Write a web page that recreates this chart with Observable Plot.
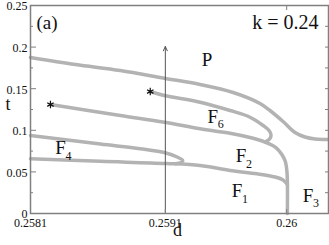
<!DOCTYPE html>
<html><head><meta charset="utf-8">
<script src="https://cdn.jsdelivr.net/npm/d3@7"></script>
<script src="https://cdn.jsdelivr.net/npm/@observablehq/plot@0.6"></script>
<style>
body{margin:0;background:#fff}
svg, svg text{font-family:"Liberation Serif","Times New Roman",serif !important}
</style>
</head><body><div id="chart"></div>
<script>
// Curves [d, t]
const boundaryP = [[0.2581,0.1875],[0.258433,0.1791],[0.258766,0.1719],[0.259092,0.1626],[0.259358,0.1550],[0.259603,0.1454],[0.259802,0.1322],[0.259876,0.1238],[0.259973,0.1106],[0.260062,0.0974],[0.260136,0.0919],[0.260210,0.0895],[0.260306,0.0889]];
const boundaryF6 = [[0.258988,0.1466],[0.259092,0.1418],[0.259358,0.1338],[0.259580,0.1238],[0.259728,0.1157],[0.259825,0.1058],[0.259869,0.0998],[0.259884,0.0944],[0.259873,0.0895],[0.259839,0.0859]];
const boundaryF2 = [[0.258248,0.1310],[0.258766,0.1178],[0.259092,0.1097],[0.259358,0.1018],[0.259580,0.0965],[0.259728,0.0913],[0.259839,0.0859],[0.259920,0.0793],[0.259964,0.0709],[0.259990,0.0625],[0.260001,0.0517],[0.260005,0.0400],[0.260005,0]];
const boundaryF1 = [[0.2581,0.0657],[0.258618,0.0627],[0.259107,0.0601],[0.259358,0.0577],[0.259580,0.0517],[0.259780,0.0477],[0.259913,0.0439],[0.259973,0.0403],[0.260005,0.0349]];
const boundaryF4 = [[0.2581,0.0938],[0.258618,0.0835],[0.258914,0.0778],[0.259099,0.0730],[0.259188,0.0679],[0.259229,0.0637],[0.259218,0.0613],[0.259173,0.0599]];
const stars = [[0.258248,0.1310],[0.258988,0.1466]];
const arrowD = 0.2591, arrowT = [0, 0.2007];
const regionNames = ["P","F","F","F","F","F"];
const regionSubs = ["","6","2","1","3","4"];
const regionD = [0.259410,0.259451,0.259662,0.259632,0.260158,0.258322];
const regionT = [0.1851,0.1166,0.0691,0.0270,0.0216,0.0787];
const majorY = [0,0.05,0.1,0.15,0.2,0.25];
const majorYLabels = ["0","0.05","0.1","0.15","0.2","0.25"];
const minorY = [0.025,0.075,0.125,0.175,0.225];
const xTicks = [0.2581,0.2591,0.26];
const xTickLabels = ["0.2581","0.2591","0.26"];

const FONT = "Liberation Serif";
const regions = regionNames.map((n,i)=>({name:n, sub:regionSubs[i], d:regionD[i], t:regionT[i]}));
const lineGray = "#b3b3b3", frameGray = "#808080", ink = "#111";
const curveOpts = {x: p=>p[0], y: p=>p[1], stroke: lineGray, strokeWidth: 3.5, curve: "catmull-rom"};

const chart = Plot.plot({
  width: 329, height: 245,
  marginLeft: 30, marginRight: 1, marginTop: 5, marginBottom: 32,
  x: {domain: [0.2581, 0.26031]},
  y: {domain: [0, 0.25]},
  style: {fontFamily: FONT, background: "#fff", color: ink},
  marks: [
    Plot.line(boundaryP, curveOpts),
    Plot.line(boundaryF6, curveOpts),
    Plot.line(boundaryF2, curveOpts),
    Plot.line(boundaryF1, curveOpts),
    Plot.line(boundaryF4, curveOpts),
    Plot.arrow([0], {x1: arrowD, x2: arrowD, y1: arrowT[0], y2: arrowT[1], stroke: "#555", strokeWidth: 1, headLength: 7, headAngle: 50}),
    Plot.dot(stars, {x: p=>p[0], y: p=>p[1], symbol: "asterisk", r: 3.5, stroke: ink, strokeWidth: 1.2}),
    Plot.frame({stroke: frameGray, strokeWidth: 1.5}),
    Plot.axisY(majorY, {anchor: "left", tickSize: 0, tickPadding: 3, dy: 1, fontSize: 12, fill: ink, label: null, tickFormat: v => majorYLabels[majorY.indexOf(v)]}),
    Plot.axisY(majorY, {anchor: "left", tickSize: -6, label: null, stroke: frameGray, tickFormat: () => ""}),
    Plot.axisY(minorY, {anchor: "left", tickSize: -3, label: null, stroke: frameGray, tickFormat: () => ""}),
    Plot.axisY(majorY.concat(minorY), {anchor: "right", tickSize: -4, label: null, stroke: frameGray, tickFormat: () => ""}),
    Plot.axisX(xTicks, {anchor: "bottom", tickSize: 0, tickPadding: 5, fontSize: 12, fill: ink, label: null, tickFormat: v => xTickLabels[xTicks.indexOf(v)]}),
    Plot.axisX(xTicks.slice(1), {anchor: "bottom", tickSize: -4, label: null, stroke: frameGray, tickFormat: () => ""}),
    Plot.axisX(xTicks.slice(2), {anchor: "top", tickSize: -4, label: null, stroke: frameGray, tickFormat: () => ""}),
    Plot.text(regions, {x: "d", y: "t", text: "name", fontSize: 19, fill: ink}),
    Plot.text(regions.filter(r => r.sub), {x: "d", y: "t", text: "sub", dx: 8, dy: 8, fontSize: 12, fill: ink}),
    Plot.text(["k = 0.24"], {frameAnchor: "top-right", lineAnchor: "middle", dx: -10, dy: 17, textAnchor: "end", fontSize: 20, fill: ink}),
    Plot.text(["(a)"], {frameAnchor: "top-left", lineAnchor: "middle", dx: 6, dy: 17, textAnchor: "start", fontSize: 19, fill: ink}),
    Plot.text(["t"], {frameAnchor: "left", lineAnchor: "middle", dx: -25, dy: -5, fontSize: 18, fill: ink}),
    Plot.text(["d"], {frameAnchor: "bottom", lineAnchor: "middle", dx: -2, dy: 17, fontSize: 18, fill: ink})
  ]
});
document.getElementById("chart").appendChild(chart);
</script>
</body></html>
